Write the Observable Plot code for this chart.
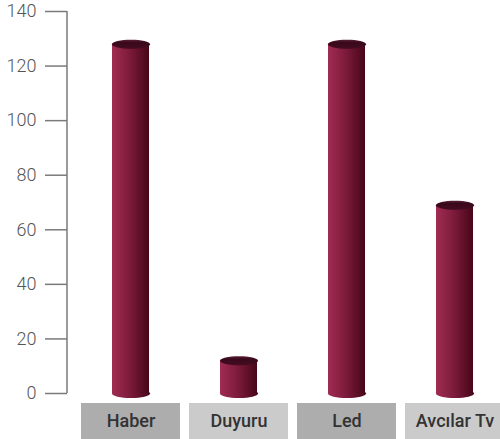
<!DOCTYPE html>
<html>
<head>
<meta charset="utf-8">
<script src="https://cdn.jsdelivr.net/npm/d3@7"></script>
<script src="https://cdn.jsdelivr.net/npm/@observablehq/plot@0.6"></script>
<style>
  html, body { margin: 0; padding: 0; background: #fff; overflow: hidden; }
  #chart svg { overflow: hidden; }
</style>
</head>
<body>
<div id="chart"></div>
<script>
const categories = ["Haber", "Duyuru", "Led", "Avcılar Tv"];
const values = [128, 12, 128, 69];
const yTicks = [0, 20, 40, 60, 80, 100, 120, 140];
const boxColors = ["#adadad", "#cbcbcb", "#adadad", "#cbcbcb"];

const data = categories.map((c, i) => ({category: c, value: values[i], box: boxColors[i]}));

const K = 0.5523;
const ellipse = {
  draw(ctx) {
    const rx = 19, ry = 4.5;
    ctx.moveTo(rx, 0);
    ctx.bezierCurveTo(rx, K * ry, K * rx, ry, 0, ry);
    ctx.bezierCurveTo(-K * rx, ry, -rx, K * ry, -rx, 0);
    ctx.bezierCurveTo(-rx, -K * ry, -K * rx, -ry, 0, -ry);
    ctx.bezierCurveTo(K * rx, -ry, rx, -K * ry, rx, 0);
    ctx.closePath();
  }
};

const chart = Plot.plot({
  width: 500,
  height: 439,
  marginLeft: 67,
  marginRight: 0,
  marginTop: 11,
  marginBottom: 46,
  style: {fontFamily: "Roboto, sans-serif", background: "#fff"},
  x: {domain: categories, range: [71.3, 514.8], padding: 0.08, axis: null},
  y: {domain: [0, 140], axis: null},
  marks: [
    // category boxes under the plot
    Plot.barY(data, {x: "category", y1: 0, y2: 0, insetTop: 10, insetBottom: -46, fill: "box"}),
    Plot.text(data, {x: "category", y: 0, dy: 28, text: "category", fontSize: 18, fontWeight: 500, fill: "#333"}),
    // y axis
    Plot.axisY({ticks: yTicks, label: null, tickSize: 22, tickPadding: 9, fontSize: 18, fontWeight: 300, color: "#555", stroke: "#7a7a7a", strokeWidth: 1.5}),
    // cylinder bottom
    Plot.dot(data, {x: "category", y: 0, symbol: ellipse, r: 5, fill: "url(#cylBody)", stroke: "none"}),
    // cylinder body
    Plot.barY(data, {x: "category", y: "value", insetLeft: 31, insetRight: 31, fill: "url(#cylBody)"}),
    // cylinder top
    Plot.dot(data, {x: "category", y: "value", symbol: ellipse, r: 5, fill: "url(#cylTop)", stroke: "none"})
  ]
});

const svg = d3.select(chart);
const defs = svg.insert("defs", ":first-child");
const g1 = defs.append("linearGradient").attr("id", "cylBody").attr("x1", 0).attr("x2", 1).attr("y1", 0).attr("y2", 0);
g1.append("stop").attr("offset", "0%").attr("stop-color", "#a02c52");
g1.append("stop").attr("offset", "45%").attr("stop-color", "#7f1c3d");
g1.append("stop").attr("offset", "100%").attr("stop-color", "#470619");
const g2 = defs.append("linearGradient").attr("id", "cylTop").attr("x1", 0).attr("x2", 0).attr("y1", 0).attr("y2", 1);
g2.append("stop").attr("offset", "0%").attr("stop-color", "#5a2235");
g2.append("stop").attr("offset", "30%").attr("stop-color", "#3a081b");
g2.append("stop").attr("offset", "100%").attr("stop-color", "#430c21");

// vertical axis line along the y scale
const yScale = chart.scale("y");
svg.append("line")
  .attr("x1", 67).attr("x2", 67)
  .attr("y1", yScale.apply(0)).attr("y2", yScale.apply(140))
  .attr("stroke", "#7a7a7a").attr("stroke-width", 1.5);

document.getElementById("chart").appendChild(chart);
</script>
</body>
</html>
